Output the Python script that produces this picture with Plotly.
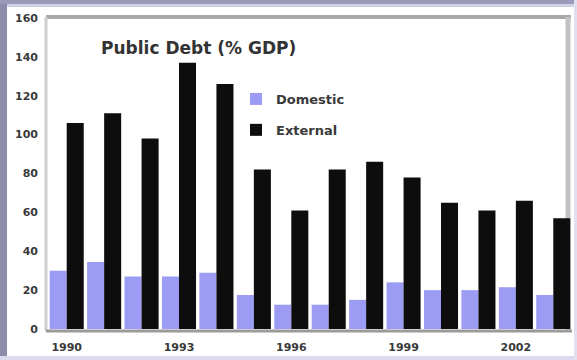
import plotly.graph_objects as go

years = list(range(1990, 2004))
domestic = [30, 34.5, 27, 27, 29, 17.5, 12.5, 12.5, 15, 24, 20, 20, 21.5, 17.5]
external = [106, 111, 98, 137, 126, 82, 61, 82, 86, 78, 65, 61, 66, 57]
tick_years = [1990, 1993, 1996, 1999, 2002]
tick_labels = [str(y) for y in tick_years]
y_ticks = [0, 20, 40, 60, 80, 100, 120, 140, 160]

W, H = 577, 360
ML, MR, MT, MB = 48, 5, 18, 31
PW, PH = W - ML - MR, H - MT - MB


def px(x):
    return (x - ML) / PW


def py(y):
    return 1 - (y - MT) / PH


FONT = "DejaVu Sans"
TXT = "#3a3a3a"

fig = go.Figure()
fig.add_trace(go.Bar(x=years, y=domestic, name="Domestic", marker_color="#9c9cf4",
                     marker_line_width=0, legendgroup="d"))
fig.add_trace(go.Bar(x=years, y=external, name="External", marker_color="#0d0d0d",
                     marker_line_width=0, legendgroup="e"))

shapes = []
# outer frame
shapes.append(dict(type="rect", xref="paper", yref="paper", x0=px(0), x1=px(7), y0=py(H), y1=py(0),
                   fillcolor="#8e8cab", line_width=0, layer="below"))
shapes.append(dict(type="rect", xref="paper", yref="paper", x0=px(0), x1=px(W), y0=py(4), y1=py(0),
                   fillcolor="#9c9aba", line_width=0, layer="below"))
shapes.append(dict(type="rect", xref="paper", yref="paper", x0=px(7), x1=px(W), y0=py(7), y1=py(4),
                   fillcolor="#d2d0e4", line_width=0, layer="below"))
shapes.append(dict(type="rect", xref="paper", yref="paper", x0=px(0), x1=px(W), y0=py(H), y1=py(356),
                   fillcolor="#dcdaee", line_width=0, layer="below"))
shapes.append(dict(type="rect", xref="paper", yref="paper", x0=px(574), x1=px(W), y0=py(H), y1=py(0),
                   fillcolor="#e2e0ee", line_width=0, layer="below"))
# plot-area frame
shapes.append(dict(type="line", xref="paper", yref="paper", x0=px(46), x1=px(571), y0=py(17), y1=py(17),
                   line=dict(color="#a9a9a9", width=4), layer="below"))
shapes.append(dict(type="line", xref="paper", yref="paper", x0=px(568), x1=px(568), y0=py(17), y1=py(331),
                   line=dict(color="#c2c2c2", width=5), layer="below"))
shapes.append(dict(type="line", xref="paper", yref="paper", x0=px(46), x1=px(46), y0=py(17), y1=py(331),
                   line=dict(color="#cfcfcf", width=3), layer="below"))
shapes.append(dict(type="line", xref="paper", yref="paper", x0=px(46), x1=px(572), y0=py(331), y1=py(331),
                   line=dict(color="#9a9a9a", width=3), layer="above"))

fig.update_layout(
    width=W, height=H,
    margin=dict(l=ML, r=MR, t=MT, b=MB),
    paper_bgcolor="white", plot_bgcolor="white",
    barmode="group", bargap=0.09, bargroupgap=0,
    shapes=shapes,
    showlegend=True,
    legend=dict(x=px(236), y=py(84), xanchor="left", yanchor="top",
                bgcolor="rgba(0,0,0,0)", tracegroupgap=11,
                font=dict(family=FONT, size=13, color=TXT, weight="bold")),
    annotations=[dict(text="Public Debt (% GDP)", xref="paper", yref="paper",
                      x=px(99), y=py(48), xanchor="left", yanchor="middle", showarrow=False,
                      font=dict(family=FONT, size=17, color="#333333", weight="bold"))],
    xaxis=dict(range=[1989.5, 2003.5], tickvals=tick_years, ticktext=tick_labels,
               showgrid=False, zeroline=False, showline=False, ticks="",
               ticklabelstandoff=10,
               tickfont=dict(family=FONT, size=11, color=TXT, weight="bold")),
    yaxis=dict(range=[0, 160], tickvals=y_ticks, showgrid=False, zeroline=False,
               showline=False, ticks="", ticklabelstandoff=9,
               tickfont=dict(family=FONT, size=11, color=TXT, weight="bold")),
)

fig.write_html("out.html")
